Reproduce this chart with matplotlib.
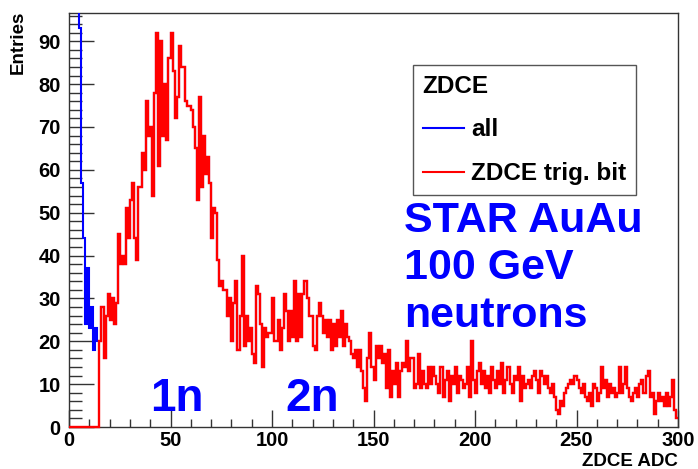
import numpy as np
import matplotlib
matplotlib.use("Agg")
import matplotlib.pyplot as plt
from matplotlib.lines import Line2D
from matplotlib.ticker import MultipleLocator

plt.rcParams['font.family'] = ['Liberation Sans', 'DejaVu Sans']
plt.rcParams['font.weight'] = 'bold'

# ZDCE ADC spectrum, 1 ADC count per bin, 0..300
edges = np.arange(0, 301)

# all events: only the low-ADC pedestal part differs from the triggered sample
all_low = [400, 400, 400, 400, 400, 93, 57, 44, 24, 37, 23, 28, 18, 23, 20]

# events with the ZDCE trigger bit set
trig = [
    0, 0, 0, 0, 0, 0, 0, 0, 0, 0, 0, 0, 0, 0, 0,
    20, 28, 16, 26, 31, 25, 30, 24, 29, 45,
    38, 40, 38, 51, 44, 53, 57, 44, 39, 56,
    56, 64, 60, 76, 68, 70, 54, 78, 92, 61,
    90, 68, 80, 67, 86, 92, 83, 72, 77, 89,
    84, 84, 76, 75, 75, 74, 70, 65, 53, 77,
    56, 68, 59, 63, 57, 44, 51, 50, 39, 33,
    34, 32, 32, 26, 30, 20, 29, 34, 18, 26,
    40, 19, 26, 20, 23, 17, 15, 33, 31, 24,
    14, 23, 21, 22, 22, 30, 20, 20, 25, 18,
    23, 31, 27, 20, 27, 21, 34, 20, 31, 21,
    31, 34, 30, 26, 26, 19, 18, 26, 29, 26,
    22, 25, 21, 25, 18, 24, 19, 25, 21, 27,
    19, 24, 21, 20, 17, 16, 18, 14, 18, 13,
    9, 6, 16, 22, 14, 11, 19, 16, 19, 15,
    17, 9, 18, 7, 13, 10, 15, 7, 13, 15,
    14, 20, 13, 16, 16, 9, 10, 17, 9, 13,
    10, 9, 14, 10, 14, 12, 10, 8, 14, 7,
    11, 13, 6, 12, 10, 14, 8, 12, 11, 9,
    10, 14, 7, 20, 11, 8, 13, 15, 10, 13,
    9, 12, 8, 14, 11, 9, 13, 10, 15, 8,
    11, 14, 10, 8, 12, 11, 14, 6, 12, 9,
    10, 11, 9, 12, 13, 11, 8, 13, 12, 10,
    12, 9, 8, 10, 7, 4, 3, 6, 5, 8,
    9, 10, 11, 10, 12, 11, 9, 8, 10, 7,
    6, 8, 5, 10, 9, 6, 8, 14, 9, 11,
    7, 10, 8, 9, 7, 8, 14, 8, 10, 14,
    9, 7, 6, 8, 9, 7, 10, 11, 8, 12,
    13, 7, 8, 3, 6, 8, 6, 7, 5, 8,
    5, 7, 11, 4, 2,
]
trig = np.array(trig, dtype=float)
all_ev = np.concatenate([all_low, trig[len(all_low):]])

fig = plt.figure(figsize=(6.98, 4.69), dpi=100)
ax = fig.add_axes([69/698, 1 - 427/469, 609/698, 414/469])

ax.stairs(all_ev, edges, baseline=None, color='#0000ff', lw=1.5, zorder=3)
ax.stairs(trig, edges, baseline=None, color='#ff0000', lw=1.7, zorder=4, clip_on=False)

ax.set_xlim(0, 300)
ax.set_ylim(0, 96.6)

ax.xaxis.set_major_locator(MultipleLocator(50))
ax.xaxis.set_minor_locator(MultipleLocator(10))
ax.yaxis.set_major_locator(MultipleLocator(10))
ax.yaxis.set_minor_locator(MultipleLocator(2))
ax.tick_params(which='both', direction='in', labelsize=14.5, width=1, color='#333333')
ax.tick_params(axis='y', which='major', length=18, pad=6)
ax.tick_params(axis='y', which='minor', length=9)
ax.tick_params(axis='x', which='major', length=12, pad=3)
ax.tick_params(axis='x', which='minor', length=6)
for s in ax.spines.values():
    s.set_linewidth(1)
    s.set_color('#333333')

ax.set_xlabel('ZDCE ADC', fontsize=13.5, fontweight='bold', ha='right', va='center')
ax.xaxis.set_label_coords(678/698, 1 - 461/469, transform=fig.transFigure)
ax.set_ylabel('Entries', fontsize=13.5, fontweight='bold', ha='right', va='center')
ax.yaxis.set_label_coords(18/698, 1 - 11/469, transform=fig.transFigure)

handles = [Line2D([], [], color='#0000ff', lw=1.5),
           Line2D([], [], color='#ff0000', lw=1.5)]
leg = ax.legend(handles, ['all', 'ZDCE trig. bit'], title='ZDCE',
                loc='upper left', bbox_to_anchor=(413/698, 1 - 65/469),
                bbox_transform=fig.transFigure, fontsize=17.5,
                title_fontproperties={'size': 17.5, 'weight': 'bold'},
                fancybox=False, frameon=True, edgecolor='#555555',
                framealpha=1, borderpad=0.4, labelspacing=0.85,
                handlelength=1.7, handletextpad=0.3, borderaxespad=0)
leg._legend_box.align = 'left'
leg.get_frame().set_linewidth(1)

ax.text(165.0, 52.8, 'STAR AuAu\n100 GeV\nneutrons', color='#0000ff',
        fontsize=31, fontweight='bold', va='top', ha='left', linespacing=1.25)
ax.text(39.9, 3.7, '1n', color='#0000ff', fontsize=33, fontweight='bold',
        va='baseline', ha='left')
ax.text(106.4, 3.7, '2n', color='#0000ff', fontsize=33, fontweight='bold',
        va='baseline', ha='left')

fig.savefig('out.png', dpi=100)
